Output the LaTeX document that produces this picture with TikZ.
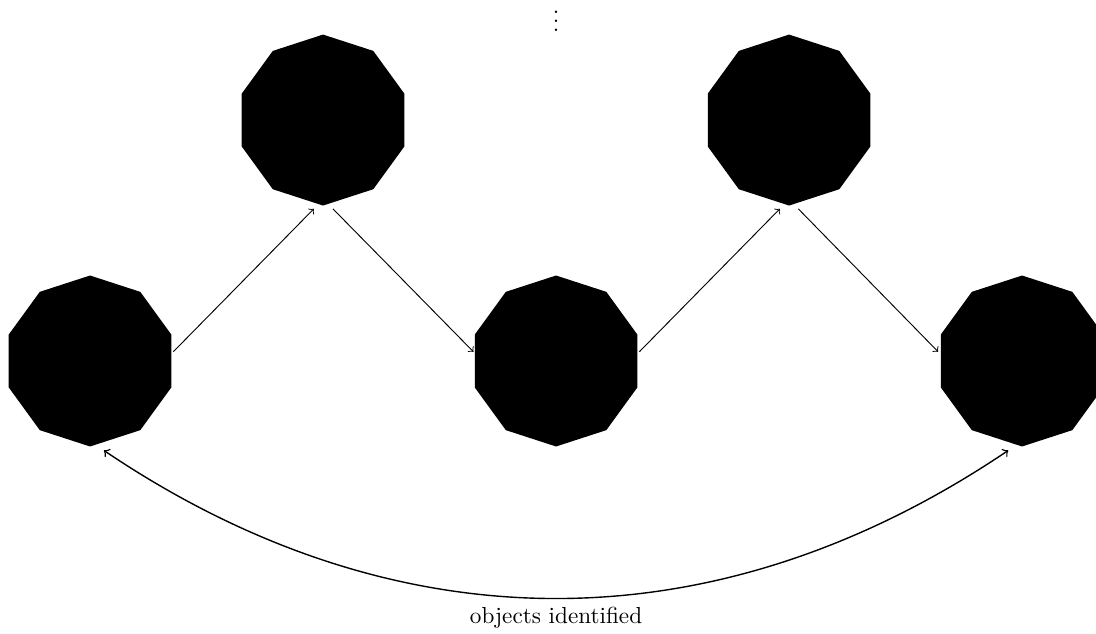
\documentclass[tikz,border=0pt]{standalone}
\usepackage{amsmath}
\usepackage{amssymb}
\usepackage{tikz}
\usetikzlibrary{shapes.geometric,arrows.meta}

\begin{document}
\begin{tikzpicture}[
    every node/.style={font=\normalsize},
    deca/.style={regular polygon, regular polygon sides=10, shape border rotate=18,
                 fill=black, minimum size=2.59cm, inner sep=0pt, outer sep=0pt},
    arr/.style={->, >=to, thin},
    idarr/.style={<->, >=to, semithick},
]
\useasboundingbox (-1.364,-4.121) rectangle (15.24,5.469);
% Bottom row and top row of objects (absolute coords)
\node[deca] (a) at (0,    0)    {};
\node[deca] (b) at (3.53, 3.65) {};
\node[deca] (c) at (7.06, 0)    {};
\node[deca] (d) at (10.59,3.65) {};
\node[deca] (e) at (14.12,0)    {};
\node[anchor=base, text height=9.5pt, inner sep=1pt] (dots) at (7.06,4.99) {$\vdots$};
% Zig-zag arrows
\draw[arr] ([shift={(0.03,0.14)}]a.east) -- ([shift={(-0.14,-0.05)}]b.south);
\draw[arr] ([shift={(0.15,-0.05)}]b.south) -- ([shift={(-0.02,0.14)}]c.west);
\draw[arr] ([shift={(0.03,0.14)}]c.east) -- ([shift={(-0.14,-0.05)}]d.south);
\draw[arr] ([shift={(0.14,-0.05)}]d.south) -- ([shift={(-0.04,0.14)}]e.west);
% Identification of the two ends
\draw[idarr] ([shift={(0.21,-0.06)}]a.south) to[bend right=34]
    node[below] (lbl) {objects identified} ([shift={(-0.21,-0.06)}]e.south);
\end{tikzpicture}
\end{document}
